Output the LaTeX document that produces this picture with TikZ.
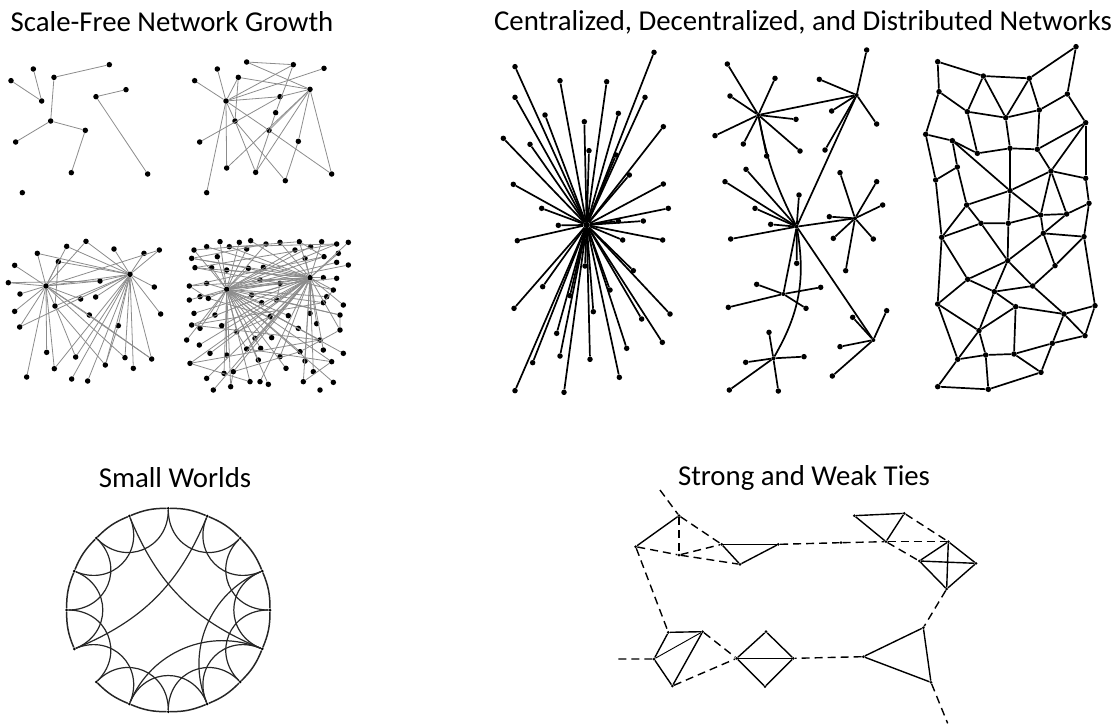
\documentclass[tikz,border=0pt]{standalone}
\usepackage{fontspec}
\setmainfont{Carlito}

\begin{document}
\begin{tikzpicture}[x=1pt, y=-1pt,
                dot/.style = {circle, fill, inner sep=0pt, minimum size=5.5pt},
                bigdot/.style = {circle, fill, inner sep=0pt, minimum size=6.5pt},
                smalldot/.style = {circle, fill, inner sep=0pt, minimum size=3pt},
                title/.style = {font=\fontsize{28.8}{32}\selectfont, inner sep=0pt},
                growline/.style = {draw=black!45, line width=0.8pt},
                netline/.style = {line width=1.7pt},
                ringline/.style = {draw=black!85, line width=1.5pt},
                strongtie/.style = {line width=1.4pt},
                weaktie/.style = {line width=1.4pt, dash pattern=on 8pt off 5pt}
                ]
\useasboundingbox (0,0) rectangle (1116,724);

\node[title] (tgrow) at (172,22) {Scale-Free Network Growth};
\node[title] (tcent) at (803,22) {Centralized, Decentralized, and Distributed Networks};
\node[title] (tsmall) at (175,478) {Small Worlds};
\node[title] (tties) at (804,478) {Strong and Weak Ties};

\begin{scope}[shift={(0,40)}, scale=1/3]
  \foreach \px/\py [count=\i] in {33/122, 100/87, 125/183, 162/112, 328/74, 378/149, 288/170,
                                  152/243, 256/271, 47/306, 214/398, 443/402, 67/458}
    \node[dot] (ga\i) at (\px,\py) {};
  \foreach \a/\b in {1/3, 2/3, 4/5, 4/8, 8/10, 8/9, 9/11, 7/6, 7/12}
    \draw[growline] (ga\a) -- (ga\b);
\end{scope}

\begin{scope}[shift={(180,40)}, scale=1/3]
  \foreach \px/\py [count=\i] in {138/183, 390/148, 44/122, 112/87, 200/66, 175/112, 340/74,
                                  432/85, 300/170, 287/218, 165/243, 267/271, 59/306, 355/304,
                                  140/384, 227/397, 316/422, 455/402, 80/458}
    \node[dot] (gb\i) at (\px,\py) {};
  \foreach \a/\b in {1/3, 1/4, 1/6, 1/7, 1/8, 1/9, 1/11, 1/12, 1/15, 1/19,
                     2/5, 2/6, 2/9, 2/14, 2/16, 2/18, 2/12, 2/15,
                     6/11, 11/16, 11/17, 10/16, 12/18, 13/9, 14/17, 5/7, 7/10}
    \draw[growline] (gb\a) -- (gb\b);
\end{scope}

\begin{scope}[shift={(0,225)}, scale=1/3]
  \foreach \px/\py [count=\i] in {138/183, 390/148, 258/49, 200/64, 342/72, 112/85, 432/85,
                                  478/75, 175/110, 44/121, 25/173, 300/168, 463/186, 60/207,
                                  242/222, 287/216, 165/243, 44/259, 268/270, 482/267, 59/306,
                                  355/302, 140/382, 227/396, 375/398, 455/402, 316/420, 163/431,
                                  400/430, 80/456, 215/462, 263/468}
    \node[dot] (gc\i) at (\px,\py) {};
  \foreach \b in {2, 3, 4, 6, 8, 9, 10, 11, 12, 14, 15, 17, 18, 19, 21, 23, 25, 26, 28, 30}
    \draw[growline] (gc1) -- (gc\b);
  \foreach \b in {3, 4, 5, 6, 7, 8, 9, 12, 13, 16, 17, 20, 21, 22, 24, 25, 26, 27, 28, 29, 31, 32}
    \draw[growline] (gc2) -- (gc\b);
  \foreach \a/\b in {17/24, 17/27, 19/26, 11/12, 9/17, 22/27}
    \draw[growline] (gc\a) -- (gc\b);
\end{scope}

\begin{scope}[shift={(180,225)}, scale=1/3]
  \foreach \px/\py [count=\i] in {140/193, 390/158,
        42/75, 80/65, 120/50, 148/65, 178/52, 212/47, 258/57, 300/52, 345/75, 358/50,
        392/65, 425/50, 470/57, 505/52, 200/72,
        35/100, 112/95, 375/100, 432/95, 475/85, 505/120, 45/128, 95/128, 140/135, 205/130,
        250/127, 470/112,
        28/183, 80/175, 240/165, 300/175, 430/158, 470/160, 460/195,
        28/225, 60/215, 85/220, 215/210, 245/233, 290/225, 440/215, 490/240, 430/233,
        42/265, 105/270, 270/275, 325/272, 390/265, 480/270, 410/296, 355/310, 35/300,
        60/310, 125/302, 170/320, 225/340, 275/338, 480/315, 20/345, 58/360, 420/345,
        90/385, 140/390, 200/372, 242/370, 300/395, 360/380, 430/375, 490/385, 30/415,
        235/405, 375/408, 455/410,
        80/460, 132/445, 160/440, 318/430, 400/440, 210/470, 240/470, 265/478, 370/470,
        460/472, 100/495, 152/485, 420/495}
    \node[dot] (gd\i) at (\px,\py) {};
  \draw[growline] (gd1) -- (gd2);
  \foreach \b in {3,5,...,87}
    \draw[growline] (gd1) -- (gd\b);
  \foreach \b in {4,6,...,86}
    \draw[growline] (gd2) -- (gd\b);
  \foreach \a in {3,6,...,78} {
    \pgfmathtruncatemacro\b{\a+9}
    \draw[growline] (gd\a) -- (gd\b);
  }
\end{scope}

\begin{scope}[shift={(490,40)}, scale=1/3]
  \node[bigdot] (cz) at (290,555) {};
  \foreach \px/\py [count=\i] in {75/80, 210/122, 350/125, 492/37, 75/172, 165/225, 283/245,
        385/220, 465/172, 40/295, 120/313, 297/332, 378/345, 520/260, 70/433, 418/405,
        520/432, 155/505, 535/505, 205/556, 385/543, 460/543, 82/602, 398/600, 518/600,
        430/692, 285/678, 158/740, 360/750, 72/805, 240/767, 310/815, 455/837, 540/822,
        200/880, 410/925, 517/907, 210/948, 300/958, 128/968, 388/1012, 75/1052, 222/1057} {
    \node[dot] (c\i) at (\px,\py) {};
    \draw[netline] (cz) -- (c\i);
  }
\end{scope}

\begin{scope}[shift={(700,40)}, scale=1/3]
  \foreach \px/\py [count=\i] in {175/225, 470/165, 290/560, 465/535, 250/762, 220/955, 520/900}
    \node[dot, minimum size=4pt] (dh\i) at (\px,\py) {};
  \foreach \hub/\leaves in {1/{82/72, 225/115, 90/168, 288/238, 45/287, 130/312, 200/348, 300/333},
                            2/{500/30, 358/118, 395/213, 530/252, 375/330},
                            3/{75/425, 138/388, 297/465, 165/505, 212/553, 92/597, 290/670},
                            4/{420/398, 530/425, 548/495, 388/530, 400/595, 520/597, 437/692},
                            5/{170/733, 362/742, 85/802, 318/805},
                            6/{207/877, 137/967, 312/950, 88/1050, 235/1053},
                            7/{560/812, 458/832, 420/920, 397/1008}}
    \foreach \px/\py [count=\i] in \leaves {
      \node[dot] (d\hub-\i) at (\px,\py) {};
      \draw[netline] (dh\hub) -- (d\hub-\i);
    }
  \foreach \a/\b in {1/2, 2/3, 3/4, 3/5, 3/7}
    \draw[netline] (dh\a) -- (dh\b);
  \draw[netline] (dh1) to[bend right=8] (dh3);
  \draw[netline] (dh3) to[bend left=20] (dh6);
\end{scope}

\begin{scope}[shift={(915,40)}, scale=1/3]
  \foreach \px/\py [count=\i] in {68/65, 205/108, 343/115, 483/20, 72/155, 157/215, 272/233,
        373/210, 457/162, 512/248, 32/283, 112/302, 187/340, 285/325, 367/328, 127/381,
        408/393, 62/420, 512/415, 285/452, 155/495, 377/525, 455/522, 522/490, 198/550,
        280/550, 80/592, 385/580, 507/590, 278/662, 420/677, 158/718, 238/755, 353/738,
        68/792, 302/800, 447/822, 540/797, 192/872, 510/887, 128/958, 212/945, 297/942,
        412/910, 378/997, 68/1040, 220/1048}
    \node[dot] (m\i) at (\px,\py) {};
  \foreach \a/\b in {1/2, 2/3, 3/4, 4/9, 1/5, 5/6, 2/6, 2/7, 3/7, 3/8, 8/9, 9/10, 6/7, 7/8,
        5/11, 6/13, 11/12, 12/16, 12/13, 12/20, 13/14, 7/14, 14/15, 8/15, 15/10, 10/17,
        15/17, 14/20, 16/18, 11/18, 16/21, 20/21, 17/20, 17/22, 17/23, 10/19, 17/19, 19/24,
        23/24, 22/23, 20/22, 20/26, 21/25, 25/26, 26/22, 18/27, 21/27, 25/27, 22/28, 24/29,
        28/29, 23/28, 25/30, 26/30, 28/30, 28/31, 29/31, 30/32, 27/32, 30/33, 30/34, 31/34,
        32/33, 33/34, 27/35, 32/35, 33/36, 34/37, 36/37, 29/38, 37/38, 37/40, 38/40, 35/39,
        33/39, 36/39, 36/43, 37/44, 35/41, 39/41, 39/42, 41/42, 42/43, 43/44, 44/40, 43/45,
        44/45, 41/46, 46/47, 42/47, 47/45}
    \draw[netline] (m\a) -- (m\b);
\end{scope}

\begin{scope}[shift={(168.3,610)}]
  \foreach \k in {0,...,15}
    \node[smalldot] (w\k) at ({-90+22.5*\k}:101.7) {};
  \foreach \k in {0,...,9,11,12,13,14,15} {
    \pgfmathtruncatemacro\n{mod(\k+1,16)}
    \draw[ringline] (w\k) to[bend left=11.25] (w\n);
  }
  \foreach \k in {0,...,14} {
    \pgfmathtruncatemacro\n{mod(\k+2,16)}
    \draw[ringline, line width=1.2pt] (w\k) to[bend right=67.5, looseness=1.3] (w\n);
  }
  \foreach \a/\b/\t in {15/5/22.5, 11/1/22.5, 5/9/45, 3/7/45}
    \draw[ringline, line width=1.2pt] (w\a) to[bend right=\t] (w\b);
\end{scope}

\begin{scope}[shift={(605,475)}, scale=1/3]
  \foreach \nm/\px/\py in {ta/222/122, tb/92/215, tc/222/240, td/350/208, te/405/268,
        tf/520/208, tg/708/203, ra/748/122, rb/898/115, rc/843/200, rd/1030/200,
        re/943/258, rf/1113/265, rg/1025/342, ua/955/458, ub/775/545, uc/978/622,
        qa/395/550, qb/483/470, qc/565/550, qd/480/635,
        ba/190/472, bb/293/470, bc/147/552, bd/202/633}
    \node[smalldot] (\nm) at (\px,\py) {};
  \coordinate (xa) at (165,45);
  \coordinate (xb) at (40,552);
  \coordinate (xc) at (1028,745);
  \foreach \a/\b in {tb/ta, td/tf, td/te, te/tf, ra/rb, ra/rc, rb/rc, rd/re, rd/rf, re/rg,
        rf/rg, re/rf, rd/rg, ua/ub, ub/uc, ua/uc, qa/qb, qb/qc, qc/qd, qd/qa, qa/qc,
        ba/bb, ba/bc, bc/bd, bb/bd}
    \draw[strongtie] (\a) -- (\b);
  \draw[strongtie, line width=0.9pt] (bc) -- (bb);
  \foreach \a/\b in {xa/ta, ta/tc, ta/td, tb/tc, tc/td, tc/te, tf/tg, tg/rc, rc/rd, rb/rd,
        rc/re, rg/ua, uc/xc, ub/qc, bb/qa, bd/qa, xb/bc, tb/ba}
    \draw[weaktie] (\a) -- (\b);
\end{scope}
\end{tikzpicture}
\end{document}
